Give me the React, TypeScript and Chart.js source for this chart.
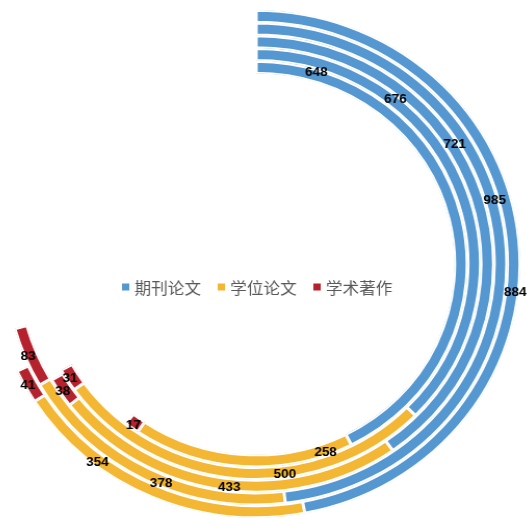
import React, { useEffect, useRef } from 'react';
import { Chart, registerables } from 'chart.js';

Chart.register(...registerables);

// Series (segments inside every ring)
const seriesNames = ['期刊论文', '学位论文', '学术著作'];
// Rings are listed from the outermost to the innermost
const journalPapers = [884, 985, 721, 676, 648];
const thesisPapers = [354, 378, 433, 500, 258];
const monographs = [41, 83, 38, 31, 17];
// invisible remainder that closes each ring
const hiddenRemainder = [600, 600, 600, 600, 600];

const COLORS = ['#5597D0', '#F3B733', '#B5222D'];
const GAP = 'rgba(0,0,0,0)';
// where along each arc its value label sits (0 = arc start, 1 = arc end)
const labelSpots = [
  [0.57, 0.71, 0.5],
  [0.43, 0.44, 0.5],
  [0.4, 0.48, 0.5],
  [0.29, 0.38, 0.5],
  [0.11, 0.12, 0.5],
];

const ringPlugin = {
  id: 'ringLabels',
  afterDatasetsDraw(chart: any) {
    const ctx = chart.ctx as CanvasRenderingContext2D;
    ctx.save();
    ctx.font = 'bold 13px "Liberation Sans", Arial, sans-serif';
    ctx.fillStyle = '#000';
    ctx.textAlign = 'center';
    ctx.textBaseline = 'middle';
    let cx = 0;
    let cy = 0;
    chart.data.datasets.forEach((ds: any, di: number) => {
      const meta = chart.getDatasetMeta(di);
      meta.data.forEach((arc: any, i: number) => {
        const p = arc.getProps(['x', 'y', 'startAngle', 'endAngle', 'innerRadius', 'outerRadius'], true);
        cx = p.x;
        cy = p.y;
        if (i >= seriesNames.length) return;
        const f = labelSpots[di][i];
        const a = p.startAngle + (p.endAngle - p.startAngle) * f;
        const r = (p.innerRadius + p.outerRadius) / 2 + 3;
        ctx.fillText(String(ds.data[i]), p.x + Math.cos(a) * r, p.y + Math.sin(a) * r);
      });
    });

    // legend in the middle of the rings
    ctx.font = '16px "Noto Sans CJK SC", sans-serif';
    ctx.textAlign = 'left';
    const marker = 7;
    const markGap = 5;
    const itemGap = 16;
    const widths = seriesNames.map((n) => ctx.measureText(n).width);
    const total = widths.reduce((s, w) => s + marker + markGap + w, 0) + itemGap * (seriesNames.length - 1);
    let x = cx + 1 - total / 2;
    const ly = cy + 23;
    seriesNames.forEach((n, i) => {
      ctx.fillStyle = COLORS[i];
      ctx.fillRect(x, ly - marker / 2, marker, marker);
      x += marker + markGap;
      ctx.fillStyle = '#595959';
      ctx.fillText(n, x, ly + 1);
      x += widths[i] + itemGap;
    });
    ctx.restore();
  },
};

export default function App() {
  const ref = useRef<HTMLCanvasElement | null>(null);

  useEffect(() => {
    if (!ref.current) return;
    const datasets = journalPapers.map((_, ri) => ({
      label: 'ring' + (ri + 1),
      data: [journalPapers[ri], thesisPapers[ri], monographs[ri], hiddenRemainder[ri]],
      backgroundColor: [...COLORS, GAP],
      borderColor: ['#ffffff', '#ffffff', '#ffffff', GAP],
      borderWidth: 1.5,
      borderAlign: 'inner' as const,
      hoverOffset: 0,
    }));
    const chart = new Chart(ref.current, {
      type: 'doughnut',
      data: { labels: [...seriesNames, ''], datasets },
      options: {
        animation: false,
        responsive: false,
        devicePixelRatio: 1,
        cutout: '75%',
        rotation: 0,
        circumference: 360,
        layout: { padding: { left: 0, right: 12, top: 10, bottom: 1 } },
        plugins: {
          legend: { display: false },
          tooltip: { enabled: false },
        },
        events: [],
      },
      plugins: [ringPlugin],
    });
    return () => chart.destroy();
  }, []);

  return (
    <div
      style={{
        position: 'fixed',
        left: 0,
        top: 0,
        width: 527,
        height: 519,
        overflow: 'hidden',
        background: '#fff',
      }}
    >
      <div
        style={{
          position: 'absolute',
          left: -8.2,
          top: 0,
          transform: 'scaleX(1.04)',
          transformOrigin: '0 0',
        }}
      >
        <canvas ref={ref} width={520} height={519} style={{ display: 'block' }} />
      </div>
    </div>
  );
}
